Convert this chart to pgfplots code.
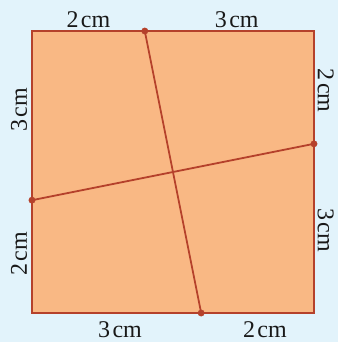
\documentclass[border=0pt]{standalone}
\usepackage{pgfplots}
\pgfplotsset{compat=1.18}
\usepackage{fontspec}
\setmainfont{Liberation Serif}

\definecolor{bgblue}{HTML}{E2F3FB}
\definecolor{sqfill}{HTML}{F9B884}
\definecolor{sqline}{HTML}{B5412B}

\tikzset{lbl/.style={font=\fontsize{24}{29}\selectfont, inner sep=0pt, text=black!90}}

\begin{document}
\begin{tikzpicture}
\begin{axis}[
    width=338pt, height=342pt,
    scale only axis,
    hide axis,
    xmin=-0.567, xmax=5.426,
    ymin=-0.514, ymax=5.55,
    clip=false,
    ]

% background
\addplot[fill=bgblue, draw=none] coordinates {(-0.567,-0.514) (5.426,-0.514) (5.426,5.55) (-0.567,5.55)} -- cycle;

% the square
\addplot[fill=sqfill, draw=sqline, line width=1.6pt] coordinates {(0,0) (5,0) (5,5) (0,5)} -- cycle;

% the two cuts
\addplot[sqline, line width=1.8pt] coordinates {(2,5) (3,0)};
\addplot[sqline, line width=1.8pt] coordinates {(0,2) (5,3)};

% end points
\addplot[only marks, mark=*, mark size=3.2pt, color=sqline] coordinates {(2,5) (3,0) (0,2) (5,3)};

% labels
\node[lbl, anchor=base] at (axis cs:1,5.07) {2\kern0.1em cm};
\node[lbl, anchor=base] at (axis cs:3.63,5.07) {3\kern0.1em cm};
\node[lbl, anchor=base] at (axis cs:1.56,-0.43) {3\kern0.1em cm};
\node[lbl, anchor=base] at (axis cs:4.13,-0.43) {2\kern0.1em cm};
\node[lbl, anchor=base, rotate=90] at (axis cs:-0.09,3.6) {3\kern0.1em cm};
\node[lbl, anchor=base, rotate=90] at (axis cs:-0.09,1.05) {2\kern0.1em cm};
\node[lbl, anchor=base, rotate=-90] at (axis cs:5.07,3.94) {2\kern0.1em cm};
\node[lbl, anchor=base, rotate=-90] at (axis cs:5.07,1.47) {3\kern0.1em cm};
\end{axis}
\end{tikzpicture}
\end{document}
